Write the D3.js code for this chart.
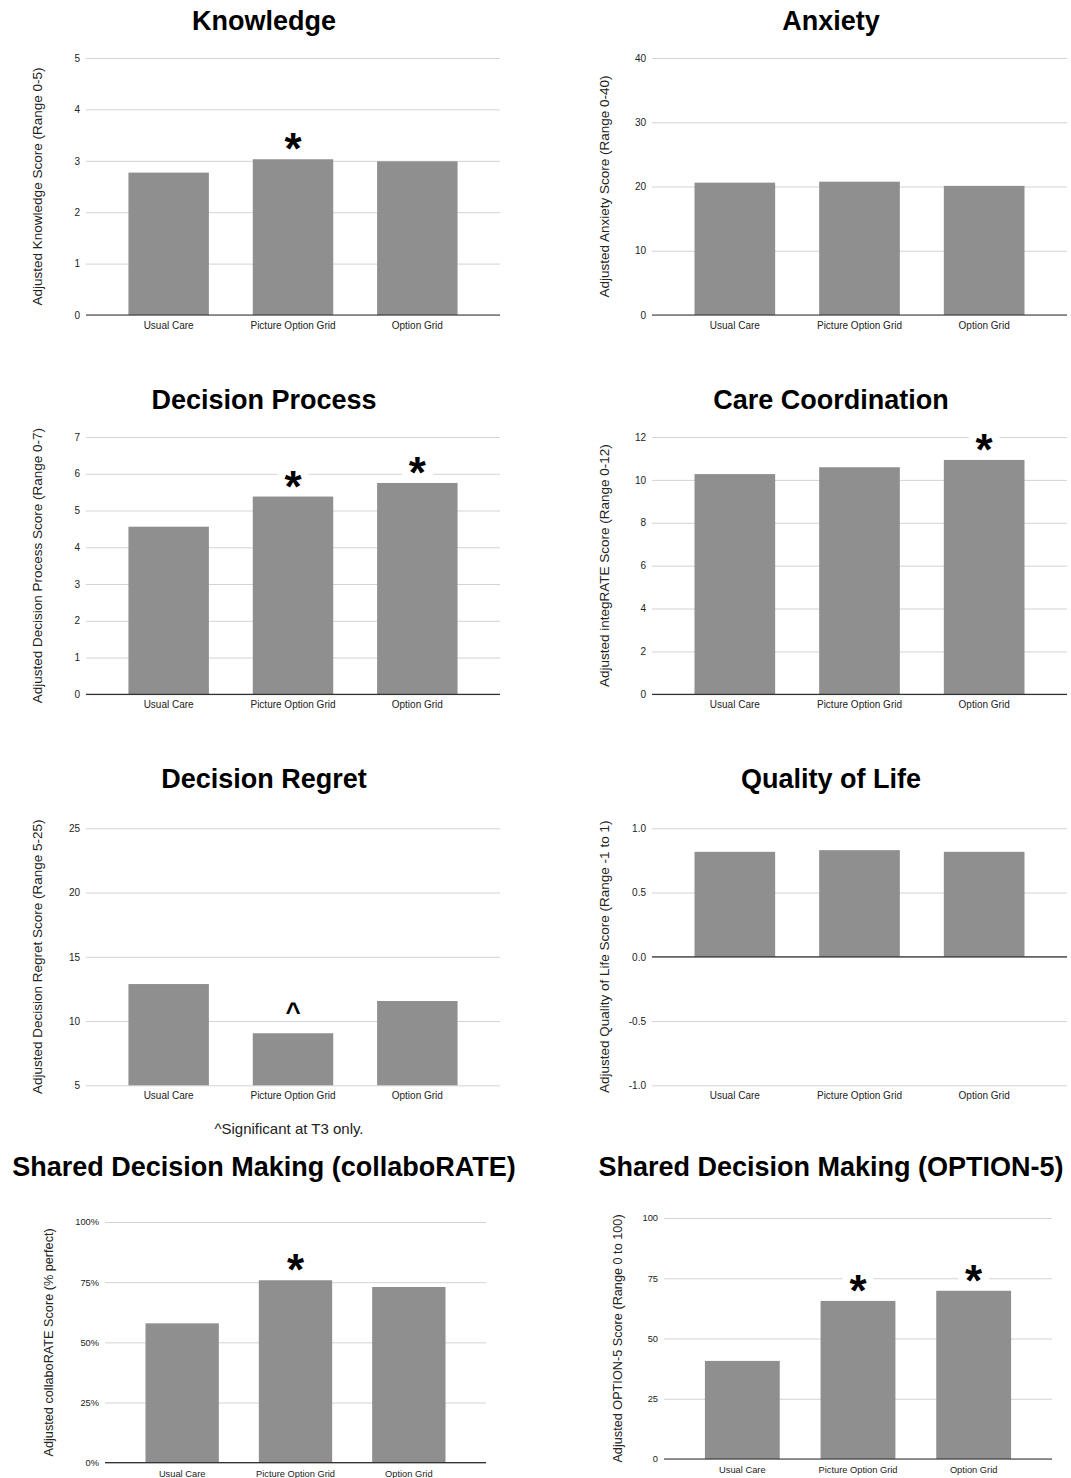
<!DOCTYPE html>
<html>
<head>
<meta charset="utf-8">
<script src="https://cdn.jsdelivr.net/npm/d3@7"></script>
<style>
  body { margin: 0; background: #fff; }
  text { font-family: "Liberation Sans", Arial, Helvetica, sans-serif; }
</style>
</head>
<body>
<svg id="chart" width="1071" height="1478"></svg>
<script>
// Study arms shown on every panel
const groups = ["Usual Care", "Picture Option Grid", "Option Grid"];

// Adjusted outcome scores per arm
const knowledgeScores        = [2.77, 3.03, 2.99];
const anxietyScores          = [20.6, 20.75, 20.1];
const decisionProcessScores  = [4.56, 5.38, 5.75];
const careCoordinationScores = [10.27, 10.59, 10.93];
const decisionRegretScores   = [12.88, 9.05, 11.56];
const qualityOfLifeScores    = [0.817, 0.83, 0.817];
const collaborateScores      = [0.579, 0.758, 0.73];
const option5Scores          = [40.7, 65.6, 69.8];

// Y-axis tick values
const knowledgeTicks        = [0, 1, 2, 3, 4, 5];
const anxietyTicks          = [0, 10, 20, 30, 40];
const decisionProcessTicks  = [0, 1, 2, 3, 4, 5, 6, 7];
const careCoordinationTicks = [0, 2, 4, 6, 8, 10, 12];
const decisionRegretTicks   = [5, 10, 15, 20, 25];
const qualityOfLifeTicks    = [-1, -0.5, 0, 0.5, 1];
const collaborateTicks      = [0, 0.25, 0.5, 0.75, 1];
const option5Ticks          = [0, 25, 50, 75, 100];

// Significance markers per arm
const knowledgeMarks        = ["", "*", ""];
const anxietyMarks          = ["", "", ""];
const decisionProcessMarks  = ["", "*", "*"];
const careCoordinationMarks = ["", "", "*"];
const decisionRegretMarks   = ["", "^", ""];
const qualityOfLifeMarks    = ["", "", ""];
const collaborateMarks      = ["", "*", ""];
const option5Marks          = ["", "*", "*"];

const BAR = "#8f8f8f", GRID = "#d3d3d3", BASE = "#333333", INK = "#222222";

// plain hyphen for negatives
const intFmt = d => String(d);
const oneDecFmt = d => d.toFixed(1);
const pctFmt = d => Math.round(d * 100) + "%";

const svg = d3.select("#chart");

const panels = [
  { title: "Knowledge", ylabel: "Adjusted Knowledge Score (Range 0-5)",
    values: knowledgeScores, ticks: knowledgeTicks, marks: knowledgeMarks, fmt: intFmt,
    x0: 86, x1: 500, top: 58, bottom: 315, cx: 264, titleY: 29.5, labelX: 37, tickSize: 10, labelSize: 13.5 },
  { title: "Anxiety", ylabel: "Adjusted Anxiety Score (Range 0-40)",
    values: anxietyScores, ticks: anxietyTicks, marks: anxietyMarks, fmt: intFmt,
    x0: 652, x1: 1067, top: 58, bottom: 315, cx: 831, titleY: 29.5, labelX: 604, tickSize: 10, labelSize: 13.5 },
  { title: "Decision Process", ylabel: "Adjusted Decision Process Score (Range 0-7)",
    values: decisionProcessScores, ticks: decisionProcessTicks, marks: decisionProcessMarks, fmt: intFmt,
    x0: 86, x1: 500, top: 437, bottom: 694.3, cx: 264, titleY: 409, labelX: 37, tickSize: 10, labelSize: 13.5 },
  { title: "Care Coordination", ylabel: "Adjusted integRATE Score (Range 0-12)",
    values: careCoordinationScores, ticks: careCoordinationTicks, marks: careCoordinationMarks, fmt: intFmt,
    x0: 652, x1: 1067, top: 437, bottom: 694.3, cx: 831, titleY: 409, labelX: 604, tickSize: 10, labelSize: 13.5 },
  { title: "Decision Regret", ylabel: "Adjusted Decision Regret Score (Range 5-25)",
    values: decisionRegretScores, ticks: decisionRegretTicks, marks: decisionRegretMarks, fmt: intFmt,
    x0: 86, x1: 500, top: 828.3, bottom: 1085.3, cx: 264, titleY: 788, labelX: 37, tickSize: 10, labelSize: 13.5 },
  { title: "Quality of Life", ylabel: "Adjusted Quality of Life Score (Range -1 to 1)",
    values: qualityOfLifeScores, ticks: qualityOfLifeTicks, marks: qualityOfLifeMarks, fmt: oneDecFmt,
    x0: 652, x1: 1067, top: 828.3, bottom: 1085.3, cx: 831, titleY: 788, labelX: 604, tickSize: 10, labelSize: 13.5 },
  { title: "Shared Decision Making (collaboRATE)", ylabel: "Adjusted collaboRATE Score (% perfect)",
    values: collaborateScores, ticks: collaborateTicks, marks: collaborateMarks, fmt: pctFmt,
    x0: 105, x1: 486, top: 1222, bottom: 1462.7, cx: 264, titleY: 1176, labelX: 49, tickSize: 9.3, labelSize: 12.7 },
  { title: "Shared Decision Making (OPTION-5)", ylabel: "Adjusted OPTION-5 Score (Range 0 to 100)",
    values: option5Scores, ticks: option5Ticks, marks: option5Marks, fmt: intFmt,
    x0: 664, x1: 1052, top: 1218, bottom: 1459, cx: 831, titleY: 1176, labelX: 618, tickSize: 9.3, labelSize: 12.7 }
];

panels.forEach(p => {
  const g = svg.append("g");
  const lo = p.ticks[0], hi = p.ticks[p.ticks.length - 1];
  const y = d3.scaleLinear().domain([lo, hi]).range([p.bottom, p.top]);
  const x = d3.scaleBand().domain(groups)
    .range([p.x0 + 20.5, p.x1 - 20.5])
    .paddingInner(0.353).paddingOuter(0.1765);

  // title
  g.append("text")
    .attr("x", p.cx).attr("y", p.titleY)
    .attr("text-anchor", "middle")
    .attr("font-size", 27).attr("font-weight", "bold").attr("fill", "#000")
    .text(p.title);

  // horizontal gridlines with tick labels
  const yAxis = d3.axisLeft(y).tickValues(p.ticks).tickFormat(p.fmt)
    .tickSize(-(p.x1 - p.x0)).tickPadding(6);
  const ax = g.append("g").attr("transform", `translate(${p.x0},0)`).call(yAxis);
  ax.select(".domain").remove();
  ax.selectAll(".tick line").attr("stroke", GRID).attr("stroke-width", 1);
  ax.selectAll(".tick text")
    .attr("font-size", p.tickSize).attr("fill", INK)
    .style("font-family", "'Liberation Sans', Arial, sans-serif");

  // y-axis title
  g.append("text")
    .attr("transform", `translate(${p.labelX},${(p.top + p.bottom) / 2}) rotate(-90)`)
    .attr("text-anchor", "middle").attr("dominant-baseline", "central")
    .attr("font-size", p.labelSize).attr("fill", INK)
    .text(p.ylabel);

  // bars
  const base = Math.max(lo, 0);
  g.selectAll("rect.bar").data(p.values).join("rect")
    .attr("class", "bar")
    .attr("x", (d, i) => x(groups[i]))
    .attr("width", x.bandwidth())
    .attr("y", d => y(Math.max(d, base)))
    .attr("height", d => Math.abs(y(d) - y(base)))
    .attr("fill", BAR);

  // zero baseline
  if (lo <= 0 && hi >= 0) {
    g.append("line")
      .attr("x1", p.x0).attr("x2", p.x1)
      .attr("y1", y(0)).attr("y2", y(0))
      .attr("stroke", BASE).attr("stroke-width", 1.2);
  }

  // category labels
  g.selectAll("text.cat").data(groups).join("text")
    .attr("class", "cat")
    .attr("x", d => x(d) + x.bandwidth() / 2)
    .attr("y", p.bottom + 14)
    .attr("text-anchor", "middle")
    .attr("font-size", p.tickSize).attr("fill", INK)
    .text(d => d);

  // significance markers
  p.marks.forEach((m, i) => {
    if (!m) return;
    const cx = x(groups[i]) + x.bandwidth() / 2;
    const top = y(p.values[i]);
    if (m === "*") {
      const cy = top - 20;
      g.append("rect")
        .attr("x", cx - 15.5).attr("y", cy - 15)
        .attr("width", 31).attr("height", 30)
        .attr("fill", "#fff");
      g.append("text")
        .attr("x", cx).attr("y", cy + 25)
        .attr("text-anchor", "middle")
        .attr("font-size", 44).attr("font-weight", "bold").attr("fill", "#000")
        .text(m);
    } else {
      g.append("text")
        .attr("x", cx).attr("y", top - 12)
        .attr("text-anchor", "middle")
        .attr("font-size", 26).attr("font-weight", "bold").attr("fill", "#000")
        .text(m);
    }
  });
});

// footnote under the regret panel
svg.append("text")
  .attr("x", 289).attr("y", 1134)
  .attr("text-anchor", "middle")
  .attr("font-size", 15).attr("fill", INK)
  .text("^Significant at T3 only.");
</script>
</body>
</html>
